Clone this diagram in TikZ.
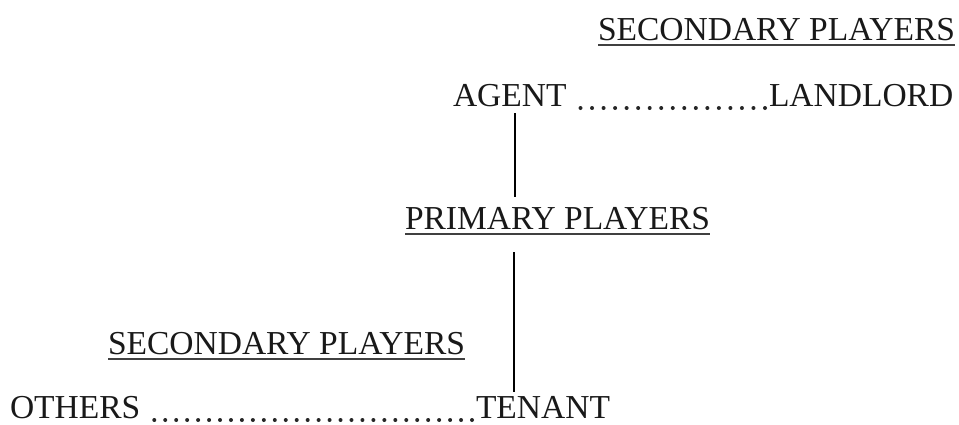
\documentclass[tikz,border=0pt]{standalone}
\usepackage{fontspec}
\usetikzlibrary{decorations}
\setmainfont{Liberation Serif}
\begin{document}
\begin{tikzpicture}[x=1pt,y=-1pt,
  label/.style={anchor=base west,inner sep=0pt,outer sep=0pt,text=black!90,
    font=\fontsize{33.5}{40}\selectfont},
  uline/.style={line width=1.8pt,black!75},
  leader/.style={line width=4pt,line cap=round,dash pattern=on 0pt off 10.9pt,
    dash expand off,black!85},
  stem/.style={line width=1.4pt,black}]
\useasboundingbox (0,0) rectangle (959,424);

% upper group
\node[label] (sec1) at (598,40) {SECONDARY PLAYERS};
\node[label] (agent) at (453,106) {AGENT};
\node[label] (landlord) at (769,106) {LANDLORD};

% centre
\node[label] (primary) at (405,229) {PRIMARY PLAYERS};

% lower group
\node[label] (sec2) at (108,354) {SECONDARY PLAYERS};
\node[label] (others) at (10,418) {OTHERS};
\node[label] (tenant) at (476,418) {TENANT};

% underlines
\foreach \n in {sec1,primary,sec2}
  \draw[uline] ([yshift=-5pt]\n.base west) -- ([yshift=-5pt]\n.base east);

% dotted leaders, last dot against the following word
\draw[leader] ([xshift=14pt,yshift=-2pt]agent.base east) -- ([xshift=-4pt,yshift=-2pt]landlord.base west);
\draw[leader] ([xshift=14pt,yshift=-2pt]others.base east) -- ([xshift=-4pt,yshift=-2pt]tenant.base west);

% vertical connectors
\coordinate (a1) at (515,113);
\coordinate (a2) at (515,197);
\coordinate (b1) at (514,252);
\coordinate (b2) at (514,392);
\draw[stem] (a1) -- (a2);
\draw[stem] (b1) -- (b2);
\end{tikzpicture}
\end{document}
